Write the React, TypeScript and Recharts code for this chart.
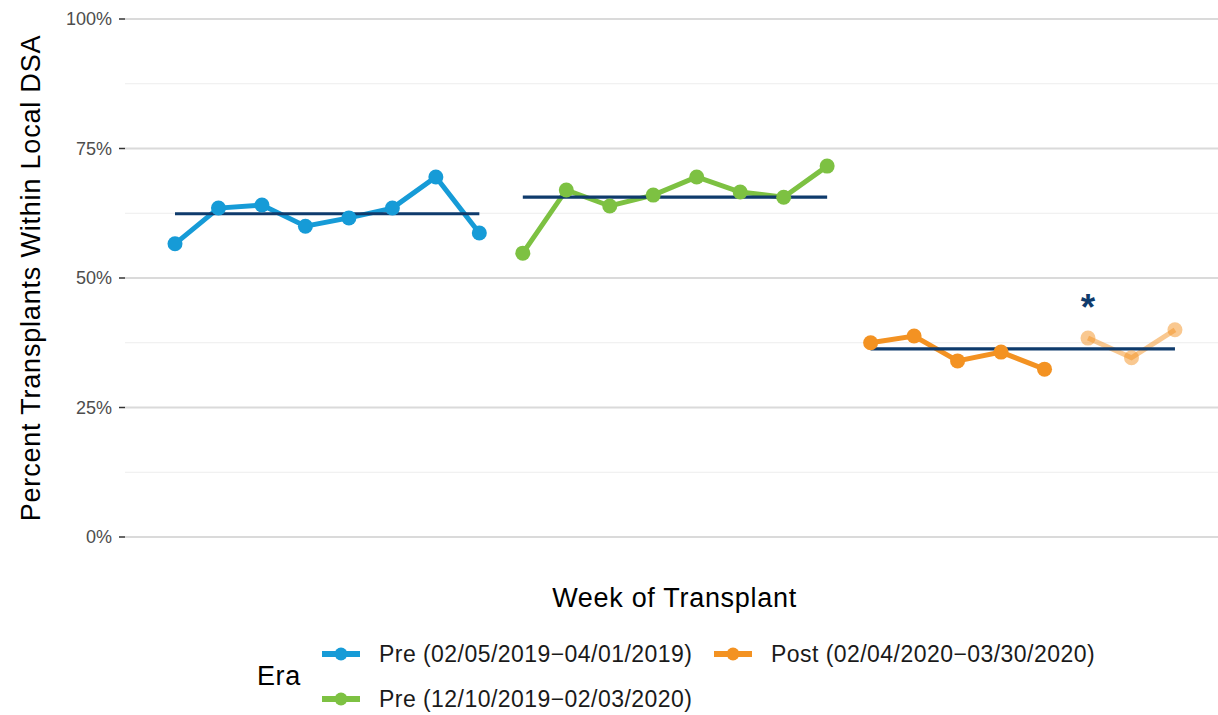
import React from 'react';
import { LineChart, Line, XAxis, YAxis, CartesianGrid, Scatter } from 'recharts';

const FONT = '"Liberation Sans", Arial, Helvetica, sans-serif';

const preAWeeks = [1, 2, 3, 4, 5, 6, 7, 8];
const preAValues = [56.6, 63.5, 64.1, 60.0, 61.6, 63.5, 69.5, 58.7];
const preBWeeks = [9, 10, 11, 12, 13, 14, 15, 16];
const preBValues = [54.8, 67.0, 63.9, 66.0, 69.5, 66.6, 65.6, 71.6];
const postWeeks = [17, 18, 19, 20, 21];
const postValues = [37.5, 38.8, 34.0, 35.7, 32.4];
const postLateWeeks = [22, 23, 24];
const postLateValues = [38.4, 34.6, 40.0];

const meanPreA = 62.4;
const meanPreB = 65.6;
const meanPost = 36.3;

const yDomain = [0, 100];
const yTicks = [0, 25, 50, 75, 100];
const yMinorTicks = [12.5, 37.5, 62.5, 87.5];

const annotations = [{ x: 22, y: 45.2, text: '*' }];

const COLORS = {
  preA: '#169bd7',
  preB: '#7dc142',
  post: '#f39222',
  mean: '#0f3b6c',
};

const legendItems = [
  { name: 'Pre (02/05/2019\u221204/01/2019)', color: COLORS.preA, col: 0, row: 0 },
  { name: 'Pre (12/10/2019\u221202/03/2020)', color: COLORS.preB, col: 0, row: 1 },
  { name: 'Post (02/04/2020\u221203/30/2020)', color: COLORS.post, col: 1, row: 0 },
];

const toPts = (xs: number[], ys: number[]) => xs.map((x, i) => ({ x, y: ys[i] }));
const meanSeg = (xs: number[], m: number) => [
  { x: xs[0], y: m },
  { x: xs[xs.length - 1], y: m },
];

const preAData = toPts(preAWeeks, preAValues);
const preBData = toPts(preBWeeks, preBValues);
const postData = toPts(postWeeks, postValues);
const postLateData = toPts(postLateWeeks, postLateValues);
const allWeeks = [...preAWeeks, ...preBWeeks, ...postWeeks, ...postLateWeeks];

const minorGen = (props: any) => {
  const s = props?.yAxis?.scale;
  if (typeof s === 'function') {
    const r = yMinorTicks.map((v) => s(v));
    if (r.every((n) => typeof n === 'number' && !isNaN(n))) return r;
  }
  if (s && typeof s.map === 'function') {
    try {
      const r = yMinorTicks.map((v) => s.map(v));
      if (r.every((n) => typeof n === 'number' && !isNaN(n))) return r;
    } catch (e) {}
  }
  const o = props?.offset || { top: 19, height: 518 };
  return yMinorTicks.map(
    (v) => o.top + o.height * (1 - (v - yDomain[0]) / (yDomain[1] - yDomain[0]))
  );
};

const AsteriskShape = (p: any) => (
  <text
    x={p.cx}
    y={p.cy}
    dy={17}
    textAnchor="middle"
    fontFamily={FONT}
    fontWeight="bold"
    fontSize={37}
    fill={COLORS.mean}
  >
    {p.payload?.text ?? '*'}
  </text>
);

const Legend2 = () => {
  const colX = [322, 714];
  const rowY = [654, 699];
  return (
    <svg
      width={1218}
      height={715}
      style={{ position: 'absolute', left: 0, top: 0, pointerEvents: 'none' }}
    >
      <text
        x={257}
        y={676}
        dominantBaseline="central"
        fontFamily={FONT}
        fontSize={27}
        letterSpacing={0.6}
        fill="#000"
      >
        Era
      </text>
      {legendItems.map((it) => {
        const x0 = colX[it.col];
        const y0 = rowY[it.row];
        return (
          <g key={it.name}>
            <line x1={x0} x2={x0 + 38} y1={y0} y2={y0} stroke={it.color} strokeWidth={6} />
            <circle cx={x0 + 19} cy={y0} r={6.5} fill={it.color} />
            <text
              x={x0 + 57}
              y={y0}
              dominantBaseline="central"
              fontFamily={FONT}
              fontSize={23}
              letterSpacing={0.45}
              fill="#1a1a1a"
            >
              {it.name}
            </text>
          </g>
        );
      })}
    </svg>
  );
};

export default function App() {
  return (
    <div style={{ position: 'absolute', left: 0, top: 0, width: 1218, height: 715, background: '#fff' }}>
      <LineChart
        width={1218}
        height={715}
        margin={{ top: 19, right: 0, left: 0, bottom: 58 }}
      >
        <CartesianGrid
          vertical={false}
          horizontalCoordinatesGenerator={minorGen}
          stroke="#ededed"
          strokeWidth={1.2}
        />
        <CartesianGrid vertical={false} stroke="#dadada" strokeWidth={2} />
        <XAxis
          type="number"
          dataKey="x"
          domain={[-0.15, 24.99]}
          allowDataOverflow
          ticks={allWeeks}
          tick={false}
          axisLine={false}
          tickLine={false}
          height={120}
          label={{
            value: 'Week of Transplant',
            position: 'center',
            dx: 3,
            fontFamily: FONT,
            fontSize: 27,
            letterSpacing: 0.7,
            fill: '#000',
          }}
        />
        <YAxis
          type="number"
          dataKey="y"
          domain={yDomain}
          ticks={yTicks}
          tickFormatter={(v: number) => `${v}%`}
          width={125}
          axisLine={false}
          tickSize={6}
          tickMargin={7}
          tickLine={{ stroke: '#333', strokeWidth: 1.5 }}
          tick={{ fill: '#4d4d4d', fontSize: 18, fontFamily: FONT }}
          label={{
            value: 'Percent Transplants Within Local DSA',
            angle: -90,
            position: 'center',
            dx: -32,
            fontFamily: FONT,
            fontSize: 27,
            letterSpacing: 0.8,
            fill: '#000',
          }}
        />
        <Line
          data={preAData}
          dataKey="y"
          stroke={COLORS.preA}
          strokeWidth={5}
          dot={{ r: 7.5, fill: COLORS.preA, stroke: 'none' }}
          isAnimationActive={false}
        />
        <Line
          data={preBData}
          dataKey="y"
          stroke={COLORS.preB}
          strokeWidth={5}
          dot={{ r: 7.5, fill: COLORS.preB, stroke: 'none' }}
          isAnimationActive={false}
        />
        <Line
          data={postData}
          dataKey="y"
          stroke={COLORS.post}
          strokeWidth={5}
          dot={{ r: 7.5, fill: COLORS.post, stroke: 'none' }}
          isAnimationActive={false}
        />
        <Line
          data={postLateData}
          dataKey="y"
          stroke={COLORS.post}
          strokeOpacity={0.5}
          strokeWidth={5}
          dot={{ r: 7.5, fill: COLORS.post, fillOpacity: 0.5, stroke: 'none' }}
          isAnimationActive={false}
        />
        <Line
          data={meanSeg(preAWeeks, meanPreA)}
          dataKey="y"
          stroke={COLORS.mean}
          strokeWidth={3.2}
          dot={false}
          isAnimationActive={false}
        />
        <Line
          data={meanSeg(preBWeeks, meanPreB)}
          dataKey="y"
          stroke={COLORS.mean}
          strokeWidth={3.2}
          dot={false}
          isAnimationActive={false}
        />
        <Line
          data={meanSeg([...postWeeks, ...postLateWeeks], meanPost)}
          dataKey="y"
          stroke={COLORS.mean}
          strokeWidth={3.2}
          dot={false}
          isAnimationActive={false}
        />
        <Scatter
          data={annotations}
          dataKey="y"
          shape={AsteriskShape}
          isAnimationActive={false}
        />
      </LineChart>
      <Legend2 />
    </div>
  );
}
